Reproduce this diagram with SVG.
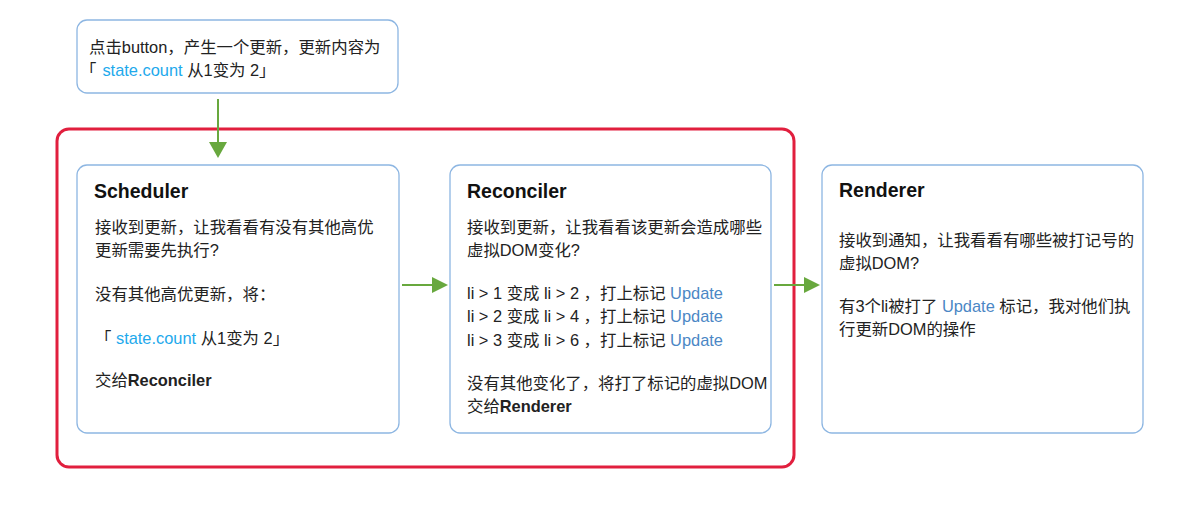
<svg xmlns="http://www.w3.org/2000/svg" width="1187" height="505" viewBox="0 0 1187 505">
<style>
.box{fill:#fff;stroke:#8db6e2;stroke-width:1.3}
.t{font-family:"Liberation Sans","Noto Sans CJK SC",sans-serif;font-size:16.4px;fill:#222}
.h{font-family:"Liberation Sans","Noto Sans CJK SC",sans-serif;font-size:19.5px;font-weight:bold;fill:#111}
.b{font-weight:bold}
.sc{fill:#1ea9ec}
.up{fill:#4b87c5}
.ar{stroke:#68a83e;stroke-width:2;fill:none}
.ah{fill:#68a83e}
</style>
<rect width="1187" height="505" fill="#fff"/>
<g id="scope">
<rect x="57" y="129" width="737" height="338" rx="12" fill="none" stroke="#e11f3e" stroke-width="3"/>
</g>
<g id="trigger">
<rect class="box" x="77" y="20" width="321" height="73" rx="10"/>
<text class="t" x="89" y="53">点击button，产生一个更新，更新内容为</text>
<text class="t" x="80" y="76">「<tspan class="sc" dx="6">state.count</tspan> 从1变为 2」</text>
</g>
<g id="scheduler">
<rect class="box" x="77" y="165" width="322" height="268" rx="10"/>
<text class="h" x="94" y="198">Scheduler</text>
<text class="t" x="95" y="233">接收到更新，让我看看有没有其他高优</text>
<text class="t" x="95" y="256">更新需要先执行?</text>
<text class="t" x="95" y="300">没有其他高优更新，将：</text>
<text class="t" x="95" y="344">「 <tspan class="sc">state.count</tspan> 从1变为 2」</text>
<text class="t" x="95" y="386">交给<tspan class="b">Reconciler</tspan></text>
</g>
<g id="reconciler">
<rect class="box" x="450" y="165" width="321" height="268" rx="10"/>
<text class="h" x="467" y="198">Reconciler</text>
<text class="t" x="467" y="233">接收到更新，让我看看该更新会造成哪些</text>
<text class="t" x="467" y="256">虚拟DOM变化?</text>
<text class="t" x="467" y="299">li &gt; 1 变成 li &gt; 2 ，打上标记 <tspan class="up">Update</tspan></text>
<text class="t" x="467" y="322">li &gt; 2 变成 li &gt; 4 ，打上标记 <tspan class="up">Update</tspan></text>
<text class="t" x="467" y="346">li &gt; 3 变成 li &gt; 6 ，打上标记 <tspan class="up">Update</tspan></text>
<text class="t" x="467" y="389">没有其他变化了，将打了标记的虚拟DOM</text>
<text class="t" x="467" y="412">交给<tspan class="b">Renderer</tspan></text>
</g>
<g id="renderer">
<rect class="box" x="822" y="165" width="321" height="268" rx="10"/>
<text class="h" x="839" y="197">Renderer</text>
<text class="t" x="839" y="246">接收到通知，让我看看有哪些被打记号的</text>
<text class="t" x="839" y="269">虚拟DOM?</text>
<text class="t" x="839" y="312">有3个li被打了 <tspan class="up">Update</tspan> 标记，我对他们执</text>
<text class="t" x="839" y="335">行更新DOM的操作</text>
</g>
<g id="connectors">
<line class="ar" x1="218" y1="99" x2="218" y2="144"/>
<polygon class="ah" points="209,142 227,142 218,158"/>
<line class="ar" x1="402" y1="285" x2="433" y2="285"/>
<polygon class="ah" points="432,277 432,293 448,285"/>
<line class="ar" x1="774" y1="285" x2="805" y2="285"/>
<polygon class="ah" points="804,277 804,293 820,285"/>
</g>
</svg>
